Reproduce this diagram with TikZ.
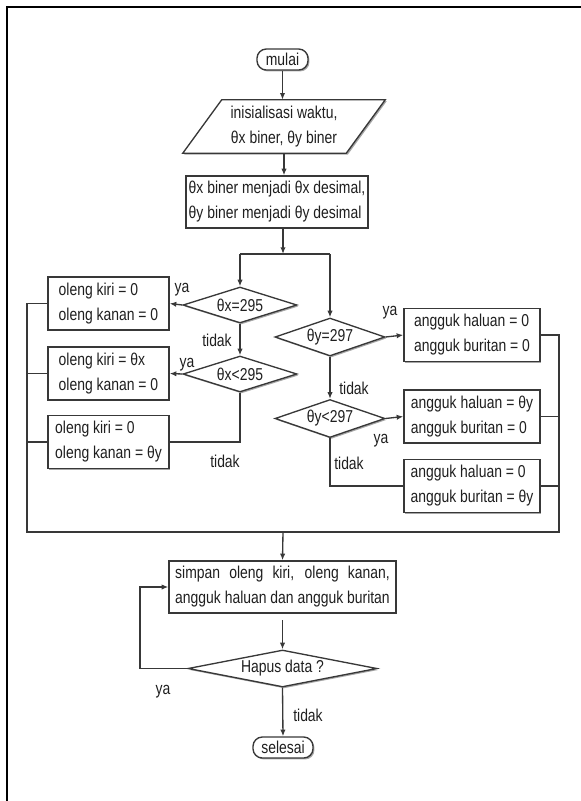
\documentclass[tikz,border=0pt]{standalone}
\usepackage{fontspec}
\setmainfont{Liberation Sans}[FakeStretch=0.81]
\usetikzlibrary{shapes.geometric,shadows,arrows.meta}
\newsavebox\linebox
\tikzset{
  every node/.style={font=\fontsize{12.9pt}{18.75pt}\selectfont, text=black!88},
  ln/.style={draw=black!78, line width=1pt},
  arr/.style={ln, -{Latex[length=5pt,width=4pt]}},
  shad/.style={drop shadow={shadow xshift=1.1pt,shadow yshift=-1.1pt,fill=black!35,opacity=1}},
  proc/.style={rectangle, draw=black!78, line width=1pt, fill=white, shad, align=left, inner sep=0pt},
  lbox/.style={proc, minimum width=90.75pt, minimum height=39.75pt},
  rbox/.style={proc, minimum width=102pt, minimum height=39.75pt},
  dec/.style={diamond, draw=black!78, line width=1pt, fill=white, shad, inner sep=0pt},
  term/.style={rectangle, rounded corners=7pt, draw=black!78, line width=1pt, fill=white, shad, inner sep=0pt, minimum height=15.75pt},
  lab/.style={inner sep=0pt},
}
\begin{document}
\begin{tikzpicture}[x=0.75pt,y=-0.75pt]
\useasboundingbox (0,0) rectangle (581,801);
\draw[line width=1.9pt] (7,801) -- (7,7) -- (581,7);

% junctions
\coordinate (j1) at (283,254);
\coordinate (jl) at (240,254);
\coordinate (jr) at (330,254);
\coordinate (ml) at (27,532);
\coordinate (mr) at (559,532);
\coordinate (mc) at (283,532);
\coordinate (lp) at (140,668.5);

% nodes
\node[term, minimum width=38.25pt] (mulai) at (282.5,59.5) {mulai};
\node[minimum width=122.25pt, minimum height=39.75pt, inner sep=0pt] (para) at (284,126.5) {};
\path[draw=black!78, line width=1pt, fill=white, shad]
  ([xshift=-19.5*0.75pt]para.south west) -- ([xshift=-19.5*0.75pt]para.south east)
  -- ([xshift=19.5*0.75pt]para.north east) -- ([xshift=19.5*0.75pt]para.north west) -- cycle;
\node[inner sep=0pt, align=center] (paratext) at (para) {inisialisasi waktu,\\θx biner, θy biner};
\node[proc, minimum width=136.5pt, minimum height=39pt] (init) at (277,202) {θx biner menjadi θx desimal,\\θy biner menjadi θy desimal};

\node[dec, aspect=3.17, minimum width=85.5pt, minimum height=27pt] (dx1) at (240,305) {θx=295};
\node[dec, aspect=3.17, minimum width=85.5pt, minimum height=27pt] (dx2) at (240,374) {θx<295};
\node[lbox] (b1) at (108.5,303.5) {oleng kiri = 0\\oleng kanan = 0};
\node[lbox] (b2) at (108.5,373.5) {oleng kiri = θx\\oleng kanan = 0};
\node[lbox] (b3) at (108.5,442) {oleng kiri = 0\\oleng kanan = θy};

\node[dec, aspect=2.9, minimum width=82.5pt, minimum height=28.5pt] (dy1) at (330,337) {θy=297};
\node[dec, aspect=2.9, minimum width=82.5pt, minimum height=28.5pt] (dy2) at (330,418.5) {θy<297};
\node[rbox] (bA) at (472,335) {angguk haluan = 0\\angguk buritan = 0};
\node[rbox] (bB) at (472,416.5) {angguk haluan = θy\\angguk buritan = 0};
\node[rbox] (bC) at (472,486) {angguk haluan = 0\\angguk buritan = θy};

\node[proc, minimum width=170.25pt, minimum height=39pt, align=center] (simpan) at (282.5,587)
  {\global\setbox\linebox\hbox{angguk haluan dan angguk buritan}\makebox[\wd\linebox][s]{simpan oleng kiri, oleng kanan,}\\\usebox\linebox};
\node[dec, aspect=5.1, minimum width=141.75pt, minimum height=27.75pt] (hapus) at (282.5,668.5) {Hapus data ?};
\node[term, minimum width=45pt] (selesai) at (283,747.5) {selesai};

% labels
\node[lab] (t1) at (182,290) {ya};
\node[lab] (t2) at (217,340) {tidak};
\node[lab] (t3) at (187,365) {ya};
\node[lab] (t4) at (225,461) {tidak};
\node[lab] (t5) at (390,313) {ya};
\node[lab] (t6) at (354,388) {tidak};
\node[lab] (t7) at (381,441) {ya};
\node[lab] (t8) at (349,463) {tidak};
\node[lab] (t9) at (163,692) {ya};
\node[lab] (t10) at (308,715) {tidak};

% connectors
\draw[arr] (mulai.south) -- (mulai.south |- para.north);
\draw[arr] (para.south) -- (para.south |- init.north);
\draw[arr] (j1 |- init.south) -- (j1);
\draw[ln] (jl) -- (jr);
\draw[arr] (jl) -- (dx1.north);
\draw[arr] (jr) -- (dy1.north);
\draw[arr] (dx1.west) -- (b1.east);
\draw[arr] (dx1.south) -- (dx2.north);
\draw[arr] (dx2.west) -- (b2.east);
\draw[ln] (dx2.south) -- (dx2.south |- b3.east) -- (b3.east);
\draw[arr] (dy1.east) -- (bA.west);
\draw[arr] (dy1.south) -- (dy2.north);
\draw[arr] (dy2.east) -- (bB.west);
\draw[ln] (dy2.south) -- (dy2.south |- bC.west) -- (bC.west);
\draw[ln] (b1.west) -- (b1.west -| ml) -- (ml) -- (mr) -- (bA.east -| mr) -- (bA.east);
\draw[ln] (b2.west) -- (b2.west -| ml);
\draw[ln] (b3.west) -- (b3.west -| ml);
\draw[ln] (bB.east) -- (bB.east -| mr);
\draw[ln] (bC.east) -- (bC.east -| mr);
\draw[arr] (mc) -- (simpan.north);
\draw[arr] ([yshift=-5pt]simpan.south) -- (hapus.north);
\draw[arr] (hapus.west) -- (lp) -- (lp |- simpan.west) -- (simpan.west);
\draw[arr] (hapus.south) -- (selesai.north);
\end{tikzpicture}
\end{document}
